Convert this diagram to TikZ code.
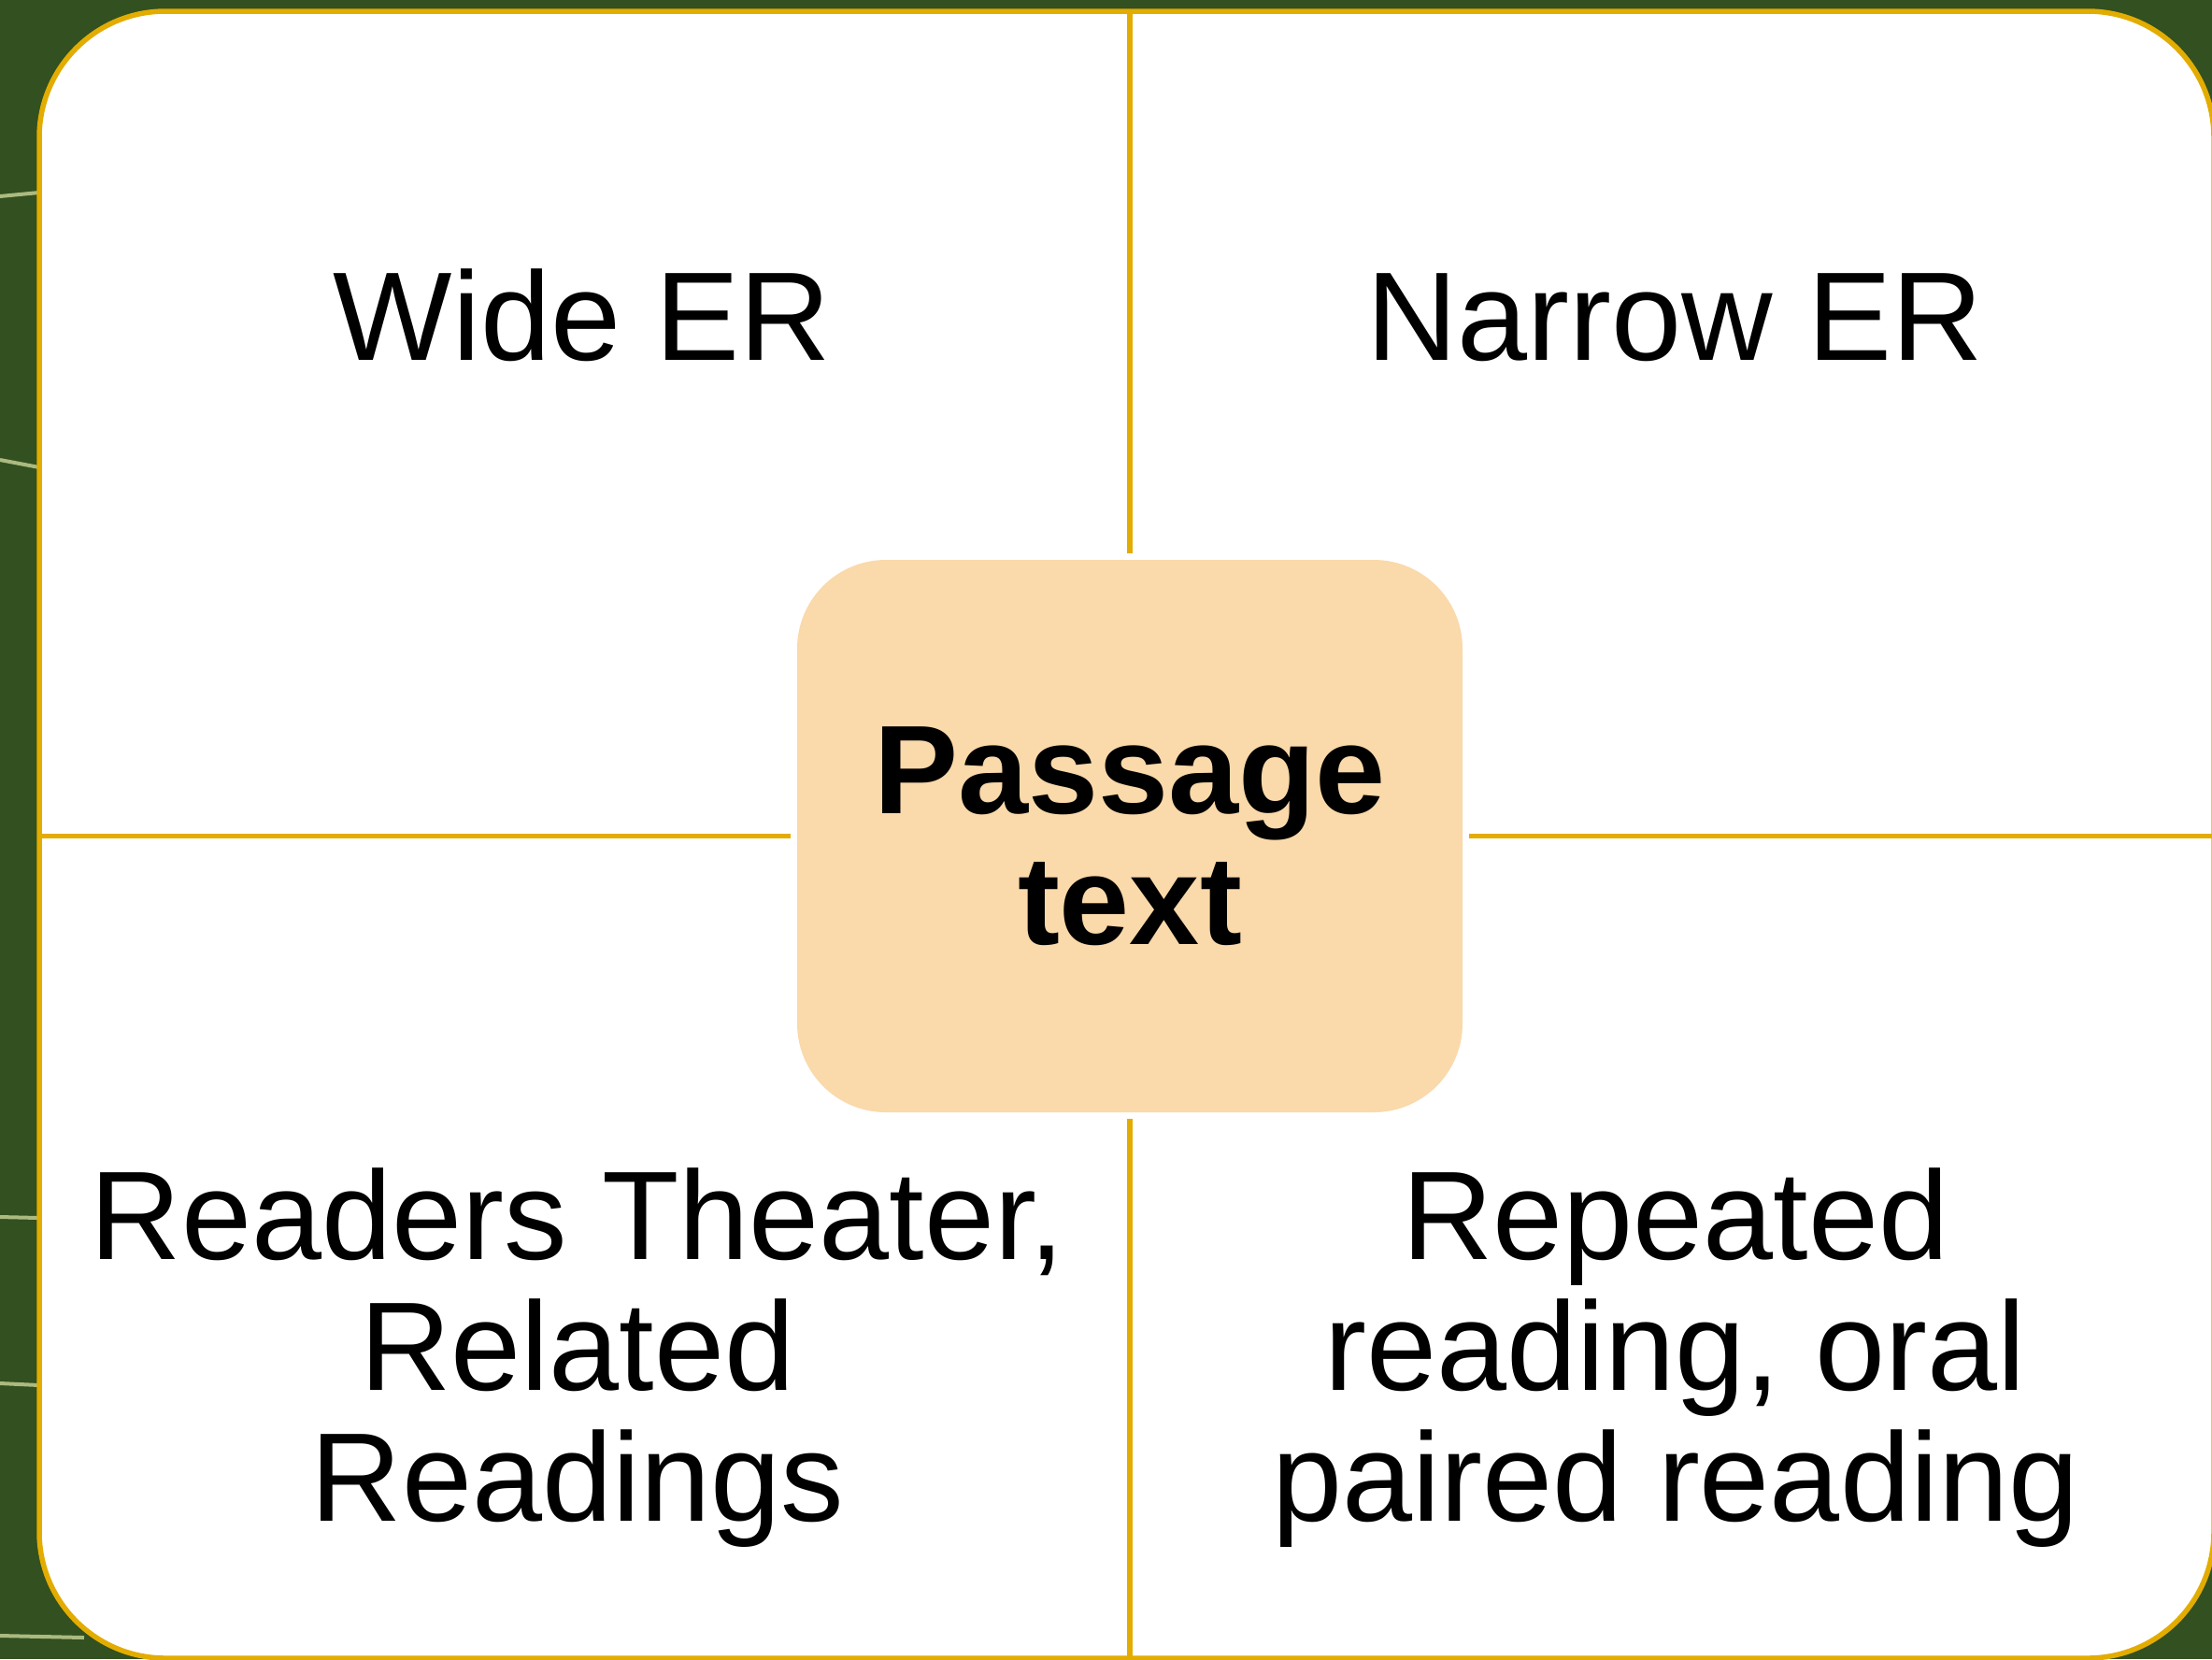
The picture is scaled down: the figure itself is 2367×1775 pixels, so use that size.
\documentclass[tikz,border=0pt]{standalone}
\usepackage{fontspec}
\setmainfont{Liberation Sans}
\usepackage{xcolor}
\usetikzlibrary{calc,positioning}
\definecolor{gold}{RGB}{227,172,0}
\definecolor{peach}{RGB}{250,217,170}
\definecolor{leaf}{RGB}{50,80,32}
\definecolor{vein}{RGB}{172,186,128}
\newcommand{\quadfont}{\fontsize{38.4}{39.8}\selectfont}

\begin{document}
\begin{tikzpicture}[
    x=0.1mm, y=-0.1mm,
    frame/.style={draw=gold, line width=0.55mm, fill=white, rounded corners=13.5mm},
    grid/.style={draw=gold, line width=0.55mm},
    hub/.style={fill=peach, rounded corners=9.5mm, inner sep=0pt,
        minimum width=71.2mm, minimum height=59.1mm, align=center,
        font=\quadfont\bfseries},
    quad/.style={align=center, inner sep=0pt, font=\quadfont},
    streak/.style={draw=vein, line width=0.4mm}
]
  \useasboundingbox (0,0) rectangle (2367,1775);
  \clip (0,0) rectangle (2367,1775);

  % background
  \fill[leaf] (0,0) rectangle (2367,1775);
  \draw[streak] (0,210) -- (42,206);
  \draw[streak] (0,492) -- (42,500);
  \draw[streak] (0,1302) -- (42,1303);
  \draw[streak] (0,1480) -- (42,1482);
  \draw[streak] (0,1750) -- (90,1752);

  % frame
  \coordinate (tl) at (42,12);
  \coordinate (br) at (2369,1774);
  \draw[frame] (tl) rectangle (br);

  % nodes (base = last line)
  \node[hub] (pass) at (1209,894.5) {Passage\\text};
  \node[quad, anchor=base] (wide) at (623,385) {Wide ER};
  \node[quad, anchor=base] (narrow) at (1792,385) {Narrow ER};
  \node[quad, anchor=base] (theater) at (618,1627) {Readers Theater,\\Related\\Readings};
  \node[quad, anchor=base] (repeated) at (1793,1627) {Repeated\\reading, oral\\paired reading};

  % edges
  \draw[grid] ([yshift=0.6mm]pass.north) -- (pass.north |- tl);
  \draw[grid] ([yshift=-0.6mm]pass.south) -- (pass.south |- br);
  \draw[grid] ([xshift=-0.6mm]pass.west) -- (pass.west -| tl);
  \draw[grid] ([xshift=0.6mm]pass.east) -- (pass.east -| br);
\end{tikzpicture}
\end{document}
